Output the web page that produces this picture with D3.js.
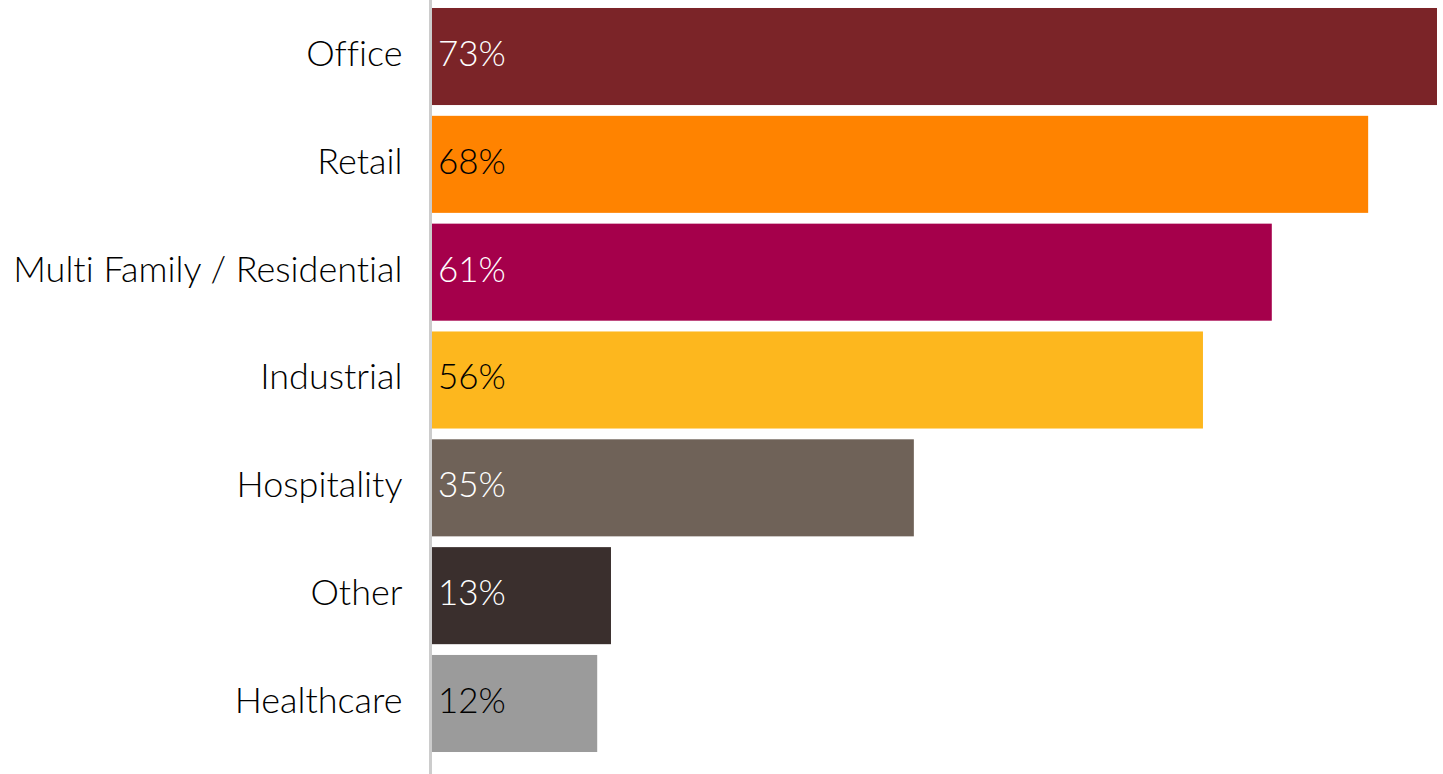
<!DOCTYPE html>
<html>
<head>
<meta charset="utf-8">
<script src="https://cdn.jsdelivr.net/npm/d3@7"></script>
<style>
  html, body { margin: 0; padding: 0; background: #fff; }
  svg { display: block; }
  text { font-family: Lato, "Noto Sans", sans-serif; font-weight: 300; font-variant-ligatures: none; }
</style>
</head>
<body>
<svg id="chart" width="1443" height="774"></svg>
<script>
// Share of respondents by property type
const categories = ["Office", "Retail", "Multi Family / Residential", "Industrial", "Hospitality", "Other", "Healthcare"];
const values = [73, 68, 61, 56, 35, 13, 12];
const barColors = ["#7B2428", "#FF8300", "#A5004B", "#FDB71E", "#6F6258", "#3A2F2D", "#9B9B9B"];
const labelColors = ["#ffffff", "#000000", "#ffffff", "#000000", "#ffffff", "#ffffff", "#000000"];

const width = 1443, height = 774;
const axisX = 430.5;
const x0 = 432;

const svg = d3.select("#chart");

const x = d3.scaleLinear().domain([0, 73]).range([x0, 1437]);
const y = d3.scaleBand()
  .domain(categories)
  .range([2.6, 757.4])
  .paddingInner(0.1)
  .paddingOuter(0.05);

const rows = categories.map((c, i) => ({ c, v: values[i], fill: barColors[i], lc: labelColors[i] }));

svg.append("g").selectAll("rect")
  .data(rows)
  .join("rect")
  .attr("x", x(0))
  .attr("y", d => y(d.c))
  .attr("width", d => x(d.v) - x(0))
  .attr("height", y.bandwidth())
  .attr("fill", d => d.fill);

// category axis on the left, line only with right-aligned labels
const yAxis = d3.axisLeft(y).tickSize(0).tickPadding(28);
const gAxis = svg.append("g")
  .attr("transform", `translate(${axisX},0)`)
  .call(yAxis);
gAxis.select(".domain").remove();
gAxis.selectAll("text")
  .attr("font-size", 36)
  .attr("fill", "#000")
  .attr("dy", "0.26em");

svg.append("line")
  .attr("x1", axisX).attr("x2", axisX)
  .attr("y1", 0).attr("y2", height)
  .attr("stroke", "#cccccc")
  .attr("stroke-width", 3);

// value labels inside the bars
svg.append("g").selectAll("text")
  .data(rows)
  .join("text")
  .attr("x", x(0) + 6)
  .attr("y", d => y(d.c) + y.bandwidth() / 2)
  .attr("dy", "0.27em")
  .attr("font-size", 35)
  .attr("fill", d => d.lc)
  .text(d => d.v + "%");
</script>
</body>
</html>
